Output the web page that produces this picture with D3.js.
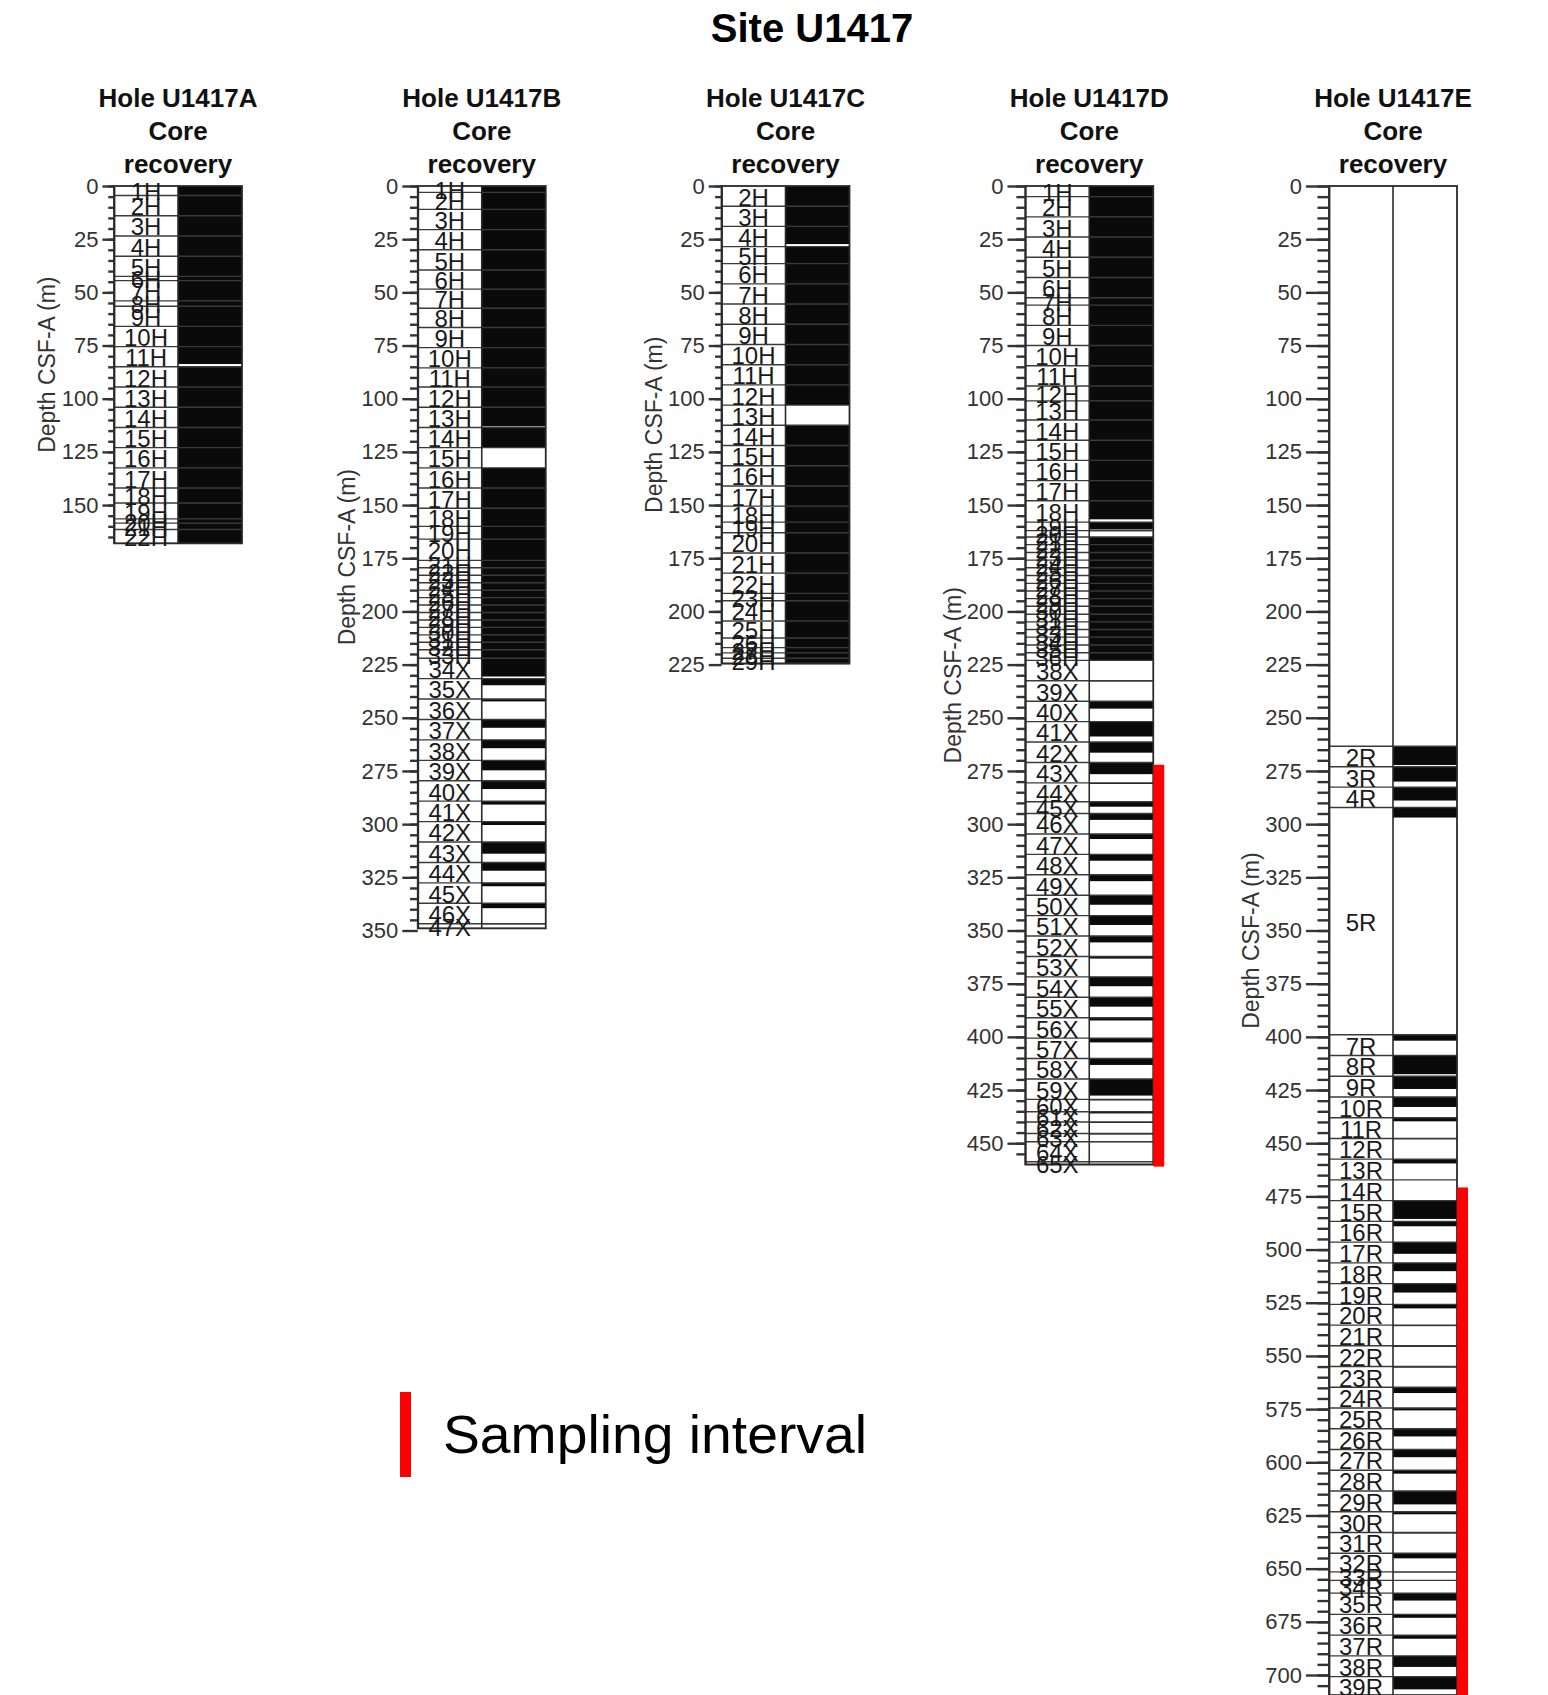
<!DOCTYPE html>
<html>
<head>
<meta charset="utf-8">
<title>Site U1417 core recovery</title>
<script src="https://cdn.jsdelivr.net/npm/d3@7"></script>
<style>
  body { margin: 0; background: #fff; }
  svg text { font-family: "Liberation Sans", Arial, sans-serif; }
</style>
</head>
<body>
<div id="chart"></div>
<script>
// Each core: [name, top depth (m), bottom depth (m), recovered length (m)]
const coresA = [
  ['1H', 0, 4.5, 4.5], ['2H', 4.5, 14, 9.5], ['3H', 14, 23.5, 9.5], ['4H', 23.5, 33, 9.5],
  ['5H', 33, 42.5, 9.5], ['6H', 42.5, 44.5, 2], ['7H', 44.5, 54, 9.5], ['8H', 54, 56.5, 2.5],
  ['9H', 56.5, 66, 9.5], ['10H', 66, 75.5, 9.5], ['11H', 75.5, 85, 8.2], ['12H', 85, 94.5, 9.5],
  ['13H', 94.5, 104, 9.5], ['14H', 104, 113.5, 9.5], ['15H', 113.5, 123, 9.5], ['16H', 123, 132.5, 9.5],
  ['17H', 132.5, 142, 9.5], ['18H', 142, 149, 7], ['19H', 149, 156.5, 7.5], ['20H', 156.5, 158.5, 2],
  ['21H', 158.5, 161.5, 3], ['22H', 161.5, 168, 6.5]
];

const coresB = [
  ['1H', 0, 3, 3], ['2H', 3, 11, 8], ['3H', 11, 20.5, 9.5], ['4H', 20.5, 30, 9.5],
  ['5H', 30, 39.5, 9.5], ['6H', 39.5, 48.5, 9], ['7H', 48.5, 57.5, 9], ['8H', 57.5, 66.5, 9],
  ['9H', 66.5, 76, 9.5], ['10H', 76, 85.5, 9.5], ['11H', 85.5, 94.5, 9], ['12H', 94.5, 104, 9.5],
  ['13H', 104, 113.5, 9], ['14H', 113.5, 123, 9.5], ['15H', 123, 132.5, 0], ['16H', 132.5, 142, 9.5],
  ['17H', 142, 151.5, 9.5], ['18H', 151.5, 160, 8.5], ['19H', 160, 166, 6], ['20H', 166, 176, 10],
  ['21H', 176, 179.5, 3.5], ['22H', 179.5, 183, 3.5], ['23H', 183, 186.5, 3.5], ['24H', 186.5, 190, 3.5],
  ['25H', 190, 193.5, 3.5], ['26H', 193.5, 197, 3.5], ['27H', 197, 200.5, 3.5], ['28H', 200.5, 204, 3.5],
  ['29H', 204, 207.5, 3.5], ['30H', 207.5, 211, 3.5], ['31H', 211, 214.5, 3.5], ['32H', 214.5, 218, 3.5],
  ['33H', 218, 222, 4], ['34X', 222, 231.6, 8.6], ['35X', 231.6, 241.2, 3.1], ['36X', 241.2, 250.8, 1.1],
  ['37X', 250.8, 260.4, 3.9], ['38X', 260.4, 270, 3.9], ['39X', 270, 279.6, 4.7], ['40X', 279.6, 289.2, 3.9],
  ['41X', 289.2, 298.8, 1.6], ['42X', 298.8, 308.4, 1.6], ['43X', 308.4, 318, 5.5], ['44X', 318, 327.6, 3.9],
  ['45X', 327.6, 337.2, 1.6], ['46X', 337.2, 346.8, 2.3], ['47X', 346.8, 349, 0.3]
];

const coresC = [
  ['2H', 0, 9.5, 9.5], ['3H', 9.5, 19, 9.5], ['4H', 19, 28.5, 8.3], ['5H', 28.5, 36.5, 8],
  ['6H', 36.5, 46, 9.5], ['7H', 46, 55.5, 9.5], ['8H', 55.5, 65, 9.5], ['9H', 65, 74.5, 9.5],
  ['10H', 74.5, 84, 9.5], ['11H', 84, 93.5, 9.5], ['12H', 93.5, 103, 9.5], ['13H', 103, 112.5, 0],
  ['14H', 112.5, 122, 9.5], ['15H', 122, 131.5, 9.5], ['16H', 131.5, 141, 9.5], ['17H', 141, 150.5, 9.5],
  ['18H', 150.5, 158, 7.5], ['19H', 158, 163, 5], ['20H', 163, 172.5, 9.5], ['21H', 172.5, 182, 9.5],
  ['22H', 182, 191.5, 9.5], ['23H', 191.5, 195, 3.5], ['24H', 195, 204.5, 9.5], ['25H', 204.5, 212.5, 8],
  ['26H', 212.5, 217, 4.5], ['27H', 217, 219.5, 2.5], ['28H', 219.5, 222, 2.5], ['29H', 222, 224.5, 2.5]
];

const coresD = [
  ['1H', 0, 5, 5], ['2H', 5, 14.5, 9.5], ['3H', 14.5, 24, 9.5], ['4H', 24, 33.5, 9.5],
  ['5H', 33.5, 43, 9.5], ['6H', 43, 52.5, 9.5], ['7H', 52.5, 56, 3.5], ['8H', 56, 65.5, 9.5],
  ['9H', 65.5, 75, 9.5], ['10H', 75, 84.5, 9.5], ['11H', 84.5, 94, 9.5], ['12H', 94, 101, 7],
  ['13H', 101, 110, 9], ['14H', 110, 119.5, 9.5], ['15H', 119.5, 129, 9.5], ['16H', 129, 138.5, 9.5],
  ['17H', 138.5, 148, 9.5], ['18H', 148, 158, 8.7], ['19H', 158, 162, 3.5], ['20H', 162, 165, 0.3],
  ['21H', 165, 168.6, 3.6], ['22H', 168.6, 172.3, 3.7], ['23H', 172.3, 175.9, 3.6], ['24H', 175.9, 179.5, 3.6],
  ['25H', 179.5, 183.1, 3.6], ['26H', 183.1, 186.8, 3.7], ['27H', 186.8, 190.4, 3.6], ['28H', 190.4, 194, 3.6],
  ['29H', 194, 197.6, 3.6], ['30H', 197.6, 201.3, 3.7], ['31H', 201.3, 204.9, 3.6], ['32H', 204.9, 208.5, 3.6],
  ['33H', 208.5, 212.1, 3.6], ['34H', 212.1, 215.8, 3.7], ['35H', 215.8, 219.4, 3.6], ['36H', 219.4, 223, 3.6],
  ['38X', 223, 232.6, 0.2], ['39X', 232.6, 242.2, 0.3], ['40X', 242.2, 251.8, 3.5], ['41X', 251.8, 261.4, 7],
  ['42X', 261.4, 271, 5], ['43X', 271, 280.6, 5.5], ['44X', 280.6, 289.5, 0.5], ['45X', 289.5, 295, 2.3],
  ['46X', 295, 304.6, 3], ['47X', 304.6, 314.2, 2.4], ['48X', 314.2, 323.8, 3], ['49X', 323.8, 333.4, 3],
  ['50X', 333.4, 343, 4.5], ['51X', 343, 352.6, 4.4], ['52X', 352.6, 362.2, 3], ['53X', 362.2, 371.8, 1],
  ['54X', 371.8, 381.4, 4.4], ['55X', 381.4, 391, 4.4], ['56X', 391, 400.6, 1.3], ['57X', 400.6, 410.2, 2],
  ['58X', 410.2, 419.8, 3], ['59X', 419.8, 429.4, 7.8], ['60X', 429.4, 435.2, 0.5], ['61X', 435.2, 440, 0.8],
  ['62X', 440, 445.4, 0.5], ['63X', 445.4, 449.3, 0.5], ['64X', 449.3, 458.7, 0.2], ['65X', 458.7, 460, 0]
];

const coresE = [
  ['', 0, 263.4, 0], ['2R', 263.4, 273, 8.8], ['3R', 273, 282.6, 7], ['4R', 282.6, 292.2, 6.3],
  ['5R', 292.2, 399, 4.7], ['7R', 399, 408.75, 2.8], ['8R', 408.75, 418.5, 8.8], ['9R', 418.5, 428.25, 6],
  ['10R', 428.25, 438, 4.7], ['11R', 438, 447.75, 1.7], ['12R', 447.75, 457.5, 0.4], ['13R', 457.5, 467.25, 2],
  ['14R', 467.25, 477, 0], ['15R', 477, 486.75, 8.6], ['16R', 486.75, 496.5, 2.3], ['17R', 496.5, 506.25, 5.5],
  ['18R', 506.25, 516, 3.9], ['19R', 516, 525.75, 4.2], ['20R', 525.75, 535.5, 1.9], ['21R', 535.5, 545.25, 0.5],
  ['22R', 545.25, 555, 0.5], ['23R', 555, 564.75, 0.5], ['24R', 564.75, 574.5, 2.7], ['25R', 574.5, 584.25, 1.1],
  ['26R', 584.25, 594, 3.6], ['27R', 594, 603.75, 3.6], ['28R', 603.75, 613.5, 1.6], ['29R', 613.5, 623.25, 6.3],
  ['30R', 623.25, 633, 1.2], ['31R', 633, 642.75, 0.5], ['32R', 642.75, 651.5, 2.4], ['33R', 651.5, 655.5, 0.3],
  ['34R', 655.5, 661.5, 0.3], ['35R', 661.5, 671.5, 3.5], ['36R', 671.5, 681.25, 1.6], ['37R', 681.25, 691, 1.7],
  ['38R', 691, 700.75, 5.2], ['39R', 700.75, 709.5, 6]
];

// Depth tick labels per hole
const ticksA = [0, 25, 50, 75, 100, 125, 150];
const ticksB = [0, 25, 50, 75, 100, 125, 150, 175, 200, 225, 250, 275, 300, 325, 350];
const ticksC = [0, 25, 50, 75, 100, 125, 150, 175, 200, 225];
const ticksD = [0, 25, 50, 75, 100, 125, 150, 175, 200, 225, 250, 275, 300, 325, 350, 375, 400, 425, 450];
const ticksE = [0, 25, 50, 75, 100, 125, 150, 175, 200, 225, 250, 275, 300, 325, 350, 375, 400,
  425, 450, 475, 500, 525, 550, 575, 600, 625, 650, 675, 700];

// Sampling intervals (m)
const samplingD = [272.1, 461];
const samplingE = [470.8, 712];

const holeNames = ['U1417A', 'U1417B', 'U1417C', 'U1417D', 'U1417E'];

const width = 1548, height = 1695;
const colW = 64;

const svg = d3.select('#chart').append('svg')
  .attr('width', width)
  .attr('height', height);

svg.append('rect').attr('width', width).attr('height', height).attr('fill', '#fff');

// Shared depth scale for all holes
const y = d3.scaleLinear().domain([0, 700]).range([186, 1675]);
const xHole = d3.scalePoint().domain(holeNames).range([114, 1329]);

// Title
svg.append('text')
  .attr('x', 812).attr('y', 42)
  .attr('text-anchor', 'middle')
  .attr('font-size', 40).attr('font-weight', 'bold')
  .text('Site U1417');

function drawHole(name, cores, ticks, sampling) {
  const left = xHole(name), mid = left + colW, right = mid + colW;
  const bottom = d3.max(cores, d => d[2]);
  const yh = y.copy().domain([0, bottom]).range([y(0), y(bottom)]);
  const g = svg.append('g');

  // tick length grows with the axis height
  const majorLen = 8 + (yh(bottom) - yh(0)) * 0.01;
  const minorLen = majorLen * 0.5;

  // Recovered part of each core
  g.selectAll('rect.rec').data(cores.filter(d => d[3] > 0)).join('rect')
    .attr('class', 'rec')
    .attr('x', mid).attr('width', colW)
    .attr('y', d => yh(d[1]))
    .attr('height', d => yh(Math.min(d[1] + d[3], d[2])) - yh(d[1]))
    .attr('fill', '#0a0a0a');

  // Core boundaries
  g.selectAll('line.bound').data(cores).join('line')
    .attr('class', 'bound')
    .attr('x1', left).attr('x2', right)
    .attr('y1', d => yh(d[2])).attr('y2', d => yh(d[2]))
    .attr('stroke', '#3a3a3a').attr('stroke-width', 1.4);

  // Frame and column divider
  g.append('rect')
    .attr('x', left).attr('y', yh(0))
    .attr('width', right - left).attr('height', yh(bottom) - yh(0))
    .attr('fill', 'none').attr('stroke', '#2a2a2a').attr('stroke-width', 1.8);
  g.append('line')
    .attr('x1', mid).attr('x2', mid)
    .attr('y1', yh(0)).attr('y2', yh(bottom))
    .attr('stroke', '#2a2a2a').attr('stroke-width', 1.6);

  // Core labels
  g.selectAll('text.core').data(cores.filter(d => d[0] !== '')).join('text')
    .attr('class', 'core')
    .attr('x', (left + mid) / 2)
    .attr('y', d => yh((d[1] + d[2]) / 2))
    .attr('dy', '0.4em')
    .attr('text-anchor', 'middle')
    .attr('font-size', 24)
    .attr('fill', '#1a1a1a')
    .text(d => d[0]);

  // Depth axis: minor ticks every 5 m, labelled ticks every 25 m
  const minor = g.append('g')
    .attr('transform', `translate(${left},0)`)
    .call(d3.axisLeft(yh).tickValues(d3.range(0, bottom, 5)).tickSize(minorLen).tickSizeOuter(0).tickFormat(''));
  minor.select('.domain').remove();
  minor.selectAll('line').attr('stroke', '#333').attr('stroke-width', 2.4);

  const major = g.append('g')
    .attr('transform', `translate(${left},0)`)
    .call(d3.axisLeft(yh).tickValues(ticks).tickSize(majorLen).tickSizeOuter(0).tickPadding(4));
  major.select('.domain').attr('stroke', '#2a2a2a').attr('stroke-width', 1.8);
  major.selectAll('line').attr('stroke', '#333').attr('stroke-width', 2.4);
  major.selectAll('text')
    .attr('font-size', 22)
    .attr('font-family', '"Liberation Sans", Arial, sans-serif')
    .attr('fill', '#333');

  // Axis title
  g.append('text')
    .attr('transform', `translate(${left - majorLen - 55},${(yh(0) + yh(bottom)) / 2}) rotate(-90)`)
    .attr('text-anchor', 'middle')
    .attr('dy', '0.35em')
    .attr('font-size', 23)
    .attr('fill', '#333')
    .text('Depth CSF-A (m)');

  // Column heading
  ['Hole ' + name, 'Core', 'recovery'].forEach((t, i) => {
    g.append('text')
      .attr('x', mid).attr('y', 107 + i * 33)
      .attr('text-anchor', 'middle')
      .attr('font-size', 26).attr('font-weight', 'bold')
      .attr('fill', '#111')
      .text(t);
  });

  // Sampling interval bar
  if (sampling) {
    g.append('rect')
      .attr('x', right).attr('width', 11)
      .attr('y', yh(sampling[0]))
      .attr('height', yh(sampling[1]) - yh(sampling[0]))
      .attr('fill', '#ff0000');
  }
}

drawHole('U1417A', coresA, ticksA, null);
drawHole('U1417B', coresB, ticksB, null);
drawHole('U1417C', coresC, ticksC, null);
drawHole('U1417D', coresD, ticksD, samplingD);
drawHole('U1417E', coresE, ticksE, samplingE);

// Legend
svg.append('rect')
  .attr('x', 400).attr('y', 1392)
  .attr('width', 11).attr('height', 85)
  .attr('fill', '#ff0000');
svg.append('text')
  .attr('x', 443).attr('y', 1453)
  .attr('font-family', '"Open Sans", "Noto Sans", sans-serif')
  .attr('font-size', 54)
  .attr('textLength', 424)
  .attr('lengthAdjust', 'spacingAndGlyphs')
  .attr('fill', '#000')
  .text('Sampling interval');
</script>
</body>
</html>
